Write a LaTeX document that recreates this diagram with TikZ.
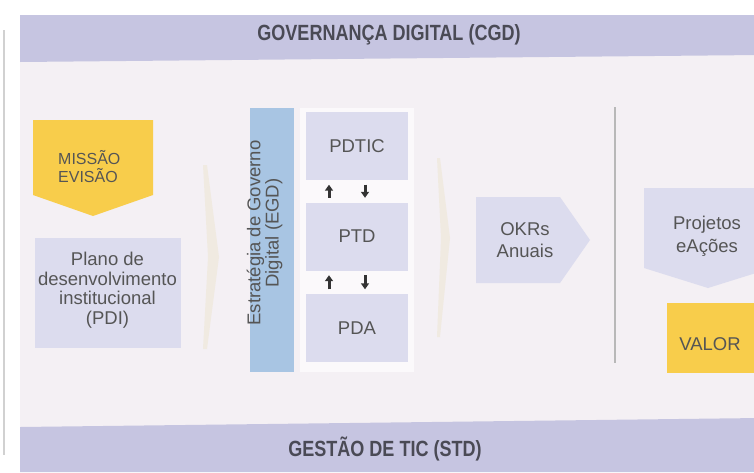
\documentclass[tikz,border=0pt]{standalone}
\usepackage{fontspec}
\setmainfont{Liberation Sans}
\newfontfamily\bandfont[FakeStretch=0.82]{Liberation Sans}
\usetikzlibrary{arrows.meta}
\definecolor{bgmain}{HTML}{F4F0F4}
\definecolor{bandc}{HTML}{C6C5E1}
\definecolor{lav}{HTML}{DCDCEE}
\definecolor{yel}{HTML}{F8CD4B}
\definecolor{blu}{HTML}{A8C5E3}
\definecolor{chev}{HTML}{F0EAE1}
\definecolor{txt}{HTML}{555555}
\definecolor{bandtxt}{HTML}{4A4A55}
\tikzset{
  lbl/.style={text=txt, font=\fontsize{18.5}{21}\selectfont, align=center, inner sep=0pt},
  bandlbl/.style={text=bandtxt, font=\bandfont\bfseries\fontsize{22}{24}\selectfont, inner sep=0pt},
  colbox/.style={fill=lav, draw=none, minimum width=102pt, minimum height=68pt, inner sep=0pt, text=txt, font=\fontsize{18.5}{21}\selectfont},
  smallarr/.style={-{Triangle[length=6pt,width=8pt]}, line width=3pt, draw=black!80, shorten >=4.5pt, shorten <=4.5pt}
}
\begin{document}
\begin{tikzpicture}[x=1pt,y=-1pt]
\useasboundingbox (0,0) rectangle (754,472);
\fill[white] (0,0) rectangle (754,472);
\begin{scope}
\clip (0,0) rectangle (754,472);
% main area
\fill[bgmain] (20,15) rectangle (760,472);
% left thin line
\draw[black!18, line width=1.2pt] (4,30) -- (4,455);
% bands
\fill[bandc] (20,15) -- (760,15) -- (760,55) -- (20,62) -- cycle;
\fill[bandc] (20,427) -- (760,418) -- (760,472) -- (20,472) -- cycle;
\node[bandlbl] (cgd) at (389,35) {GOVERNANÇA DIGITAL (CGD)};
\node[bandlbl] (std) at (385,449) {GESTÃO DE TIC (STD)};

% Missao e visao
\fill[yel] (33,120) -- (153,120) -- (153,195) -- (93,216) -- (33,195) -- cycle;
\node[lbl, align=left, anchor=west, font=\fontsize{16}{18}\selectfont] (mv) at (58,167) {MISSÃO\\EVISÃO};

% PDI
\node[colbox, minimum width=146pt, minimum height=110pt] (pdi) at (107.5,293) {};
\node[lbl, font=\fontsize{18.5}{19.5}\selectfont] (pditxt) at (107.5,290) {Plano de\\desenvolvimento\\institucional\\(PDI)};

% chevrons
\fill[chev] (203,165) -- (207,165) -- (219,257) -- (207,349) -- (203,349) -- (208,257) -- cycle;
\fill[chev] (437,158) -- (440,158) -- (450,238) -- (440,337) -- (437,337) -- (441,238) -- cycle;

% white column behind boxes
\fill[white!60!bgmain] (300,108) rectangle (414,372);

% EGD bar
\node[fill=blu, minimum width=44pt, minimum height=264pt, inner sep=0pt] (egd) at (272,240) {};
\node[lbl, rotate=90, font=\fontsize{18.5}{15.5}\selectfont] (egdtxt) at (264.5,233) {Estratégia de Governo\\Digital (EGD)};

% column boxes
\node[colbox] (pdtic) at (357,146) {PDTIC};
\node[colbox] (ptd) at (357,236.5) {PTD};
\node[colbox] (pda) at (357,328) {PDA};

\draw[smallarr] ([xshift=-28pt]ptd.north) -- ([xshift=-28pt]pdtic.south);
\draw[smallarr] ([xshift=8pt]pdtic.south) -- ([xshift=8pt]ptd.north);
\draw[smallarr] ([xshift=-28pt]pda.north) -- ([xshift=-28pt]ptd.south);
\draw[smallarr] ([xshift=8pt]ptd.south) -- ([xshift=8pt]pda.north);

% OKRs
\fill[lav] (476,197) -- (560,197) -- (590,240) -- (560,283) -- (476,283) -- cycle;
\node[lbl, font=\fontsize{18.5}{22}\selectfont] (okr) at (525,240) {OKRs\\Anuais};

% separator
\draw[black!28, line width=1.3pt] (615,107) -- (615,363);

% Projetos e Acoes
\fill[lav] (644,188) -- (772,188) -- (772,268) -- (708,288) -- (644,268) -- cycle;
\node[lbl, font=\fontsize{18.5}{23}\selectfont] (proj) at (707,236) {Projetos\\eAções};

% VALOR
\node[fill=yel, minimum width=100pt, minimum height=70pt, inner sep=0pt, anchor=north west] (valor) at (667,303) {};
\node[lbl] (valtxt) at (710,344) {VALOR};
\end{scope}
\end{tikzpicture}
\end{document}
